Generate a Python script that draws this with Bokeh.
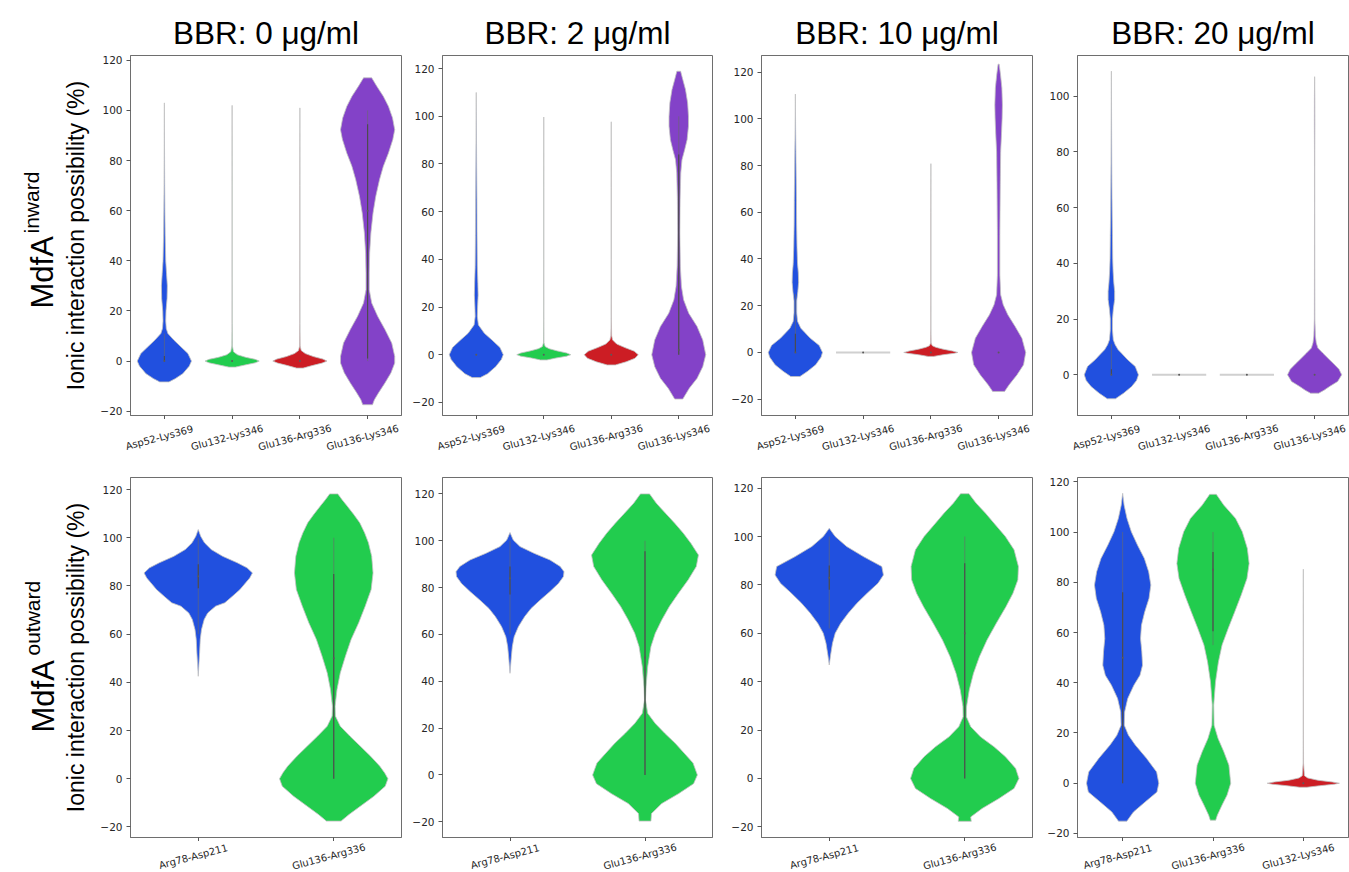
import numpy as np
from bokeh.plotting import figure
from bokeh.layouts import row, column
from bokeh.models import FixedTicker, Range1d
from bokeh.embed import file_html
from bokeh.resources import INLINE
from bokeh.core.properties import value

# ---------------- labels ----------------
concentrations = ["BBR: 0 μg/ml", "BBR: 2 μg/ml", "BBR: 10 μg/ml", "BBR: 20 μg/ml"]
inward_pairs = ["Asp52-Lys369", "Glu132-Lys346", "Glu136-Arg336", "Glu136-Lys346"]
outward_pairs = ["Arg78-Asp211", "Glu136-Arg336"]
outward_pairs_20 = ["Arg78-Asp211", "Glu136-Arg336", "Glu132-Lys346"]
y_ticks = [-20, 0, 20, 40, 60, 80, 100, 120]
y_tick_labels = ["−20", "0", "20", "40", "60", "80", "100", "120"]
ylabel = "Ionic interaction possibility (%)"

# ---------------- violin profiles (value, relative half-width) ----------------
# BBR 0, inward
in0_asp52_y = [-8.3, -7, -5, -2, 0, 3, 6, 8.5, 11, 13, 16, 20, 25, 30, 35, 40, 50, 60, 70, 80, 88, 95, 103]
in0_asp52_w = [0.17, 0.4, 0.68, 0.92, 1.0, 0.87, 0.58, 0.34, 0.13, 0.07, 0.05, 0.06, 0.1, 0.11, 0.08, 0.05, 0.03, 0.02, 0.012, 0.007, 0.004, 0.002, 0.0]
in0_glu132_y = [-2.4, -1.5, -0.7, 0, 0.7, 1.5, 2.5, 3.7, 6, 15, 40, 70, 102]
in0_glu132_w = [0.12, 0.5, 0.85, 1.0, 0.85, 0.5, 0.2, 0.05, 0.01, 0.003, 0.002, 0.002, 0.0]
in0_glu136r_y = [-2.8, -1.8, -0.8, 0, 0.8, 1.8, 3, 4.2, 6, 15, 40, 70, 101]
in0_glu136r_w = [0.12, 0.45, 0.82, 1.0, 0.85, 0.5, 0.2, 0.05, 0.01, 0.003, 0.002, 0.002, 0.0]
in0_glu136k_y = [-17.4, -15.4, -12.7, -8.7, -4.7, -0.8, 1.9, 7.2, 12.6, 17.9, 23.2, 28.5, 35.2, 43.1, 51.1, 59.1, 65.7, 72.4, 77.7, 83, 88.4, 92.3, 97, 101.6, 105.6, 109.6, 113]
in0_glu136k_w = [0.18, 0.25, 0.4, 0.64, 0.86, 1.0, 1.0, 0.89, 0.64, 0.37, 0.15, 0.06, 0.06, 0.075, 0.12, 0.2, 0.3, 0.44, 0.58, 0.77, 0.93, 1.0, 0.92, 0.77, 0.58, 0.34, 0.15]
# BBR 2, inward
in2_asp52_y = [-9.6, -8, -5, -2, 0, 3, 6, 9, 12.5, 16, 20, 25, 30, 37, 50, 65, 80, 93, 102, 110]
in2_asp52_w = [0.15, 0.42, 0.72, 0.93, 1.0, 0.88, 0.6, 0.3, 0.08, 0.04, 0.05, 0.07, 0.06, 0.04, 0.03, 0.025, 0.015, 0.008, 0.003, 0.0]
in2_glu132_y = [-2.2, -1.4, -0.6, 0, 0.7, 1.6, 2.5, 3.4, 5, 15, 40, 70, 99.7]
in2_glu132_w = [0.12, 0.45, 0.85, 1.0, 0.85, 0.5, 0.2, 0.05, 0.01, 0.003, 0.002, 0.002, 0.0]
in2_glu136r_y = [-4.3, -3, -1.5, 0, 1.5, 3, 4.5, 6.2, 8, 15, 40, 70, 97.7]
in2_glu136r_w = [0.15, 0.55, 0.88, 1.0, 0.85, 0.5, 0.2, 0.05, 0.015, 0.004, 0.002, 0.002, 0.0]
in2_glu136k_y = [-18.6, -14.1, -9.9, -5, 0, 6.2, 11.8, 17.4, 23, 28.6, 37, 51, 65, 76.2, 81.8, 86, 90.2, 95.8, 100, 105.6, 111.2, 115.4, 118.9]
in2_glu136k_w = [0.15, 0.39, 0.68, 0.89, 1.0, 0.89, 0.68, 0.37, 0.18, 0.1, 0.06, 0.04, 0.05, 0.075, 0.12, 0.22, 0.31, 0.36, 0.36, 0.33, 0.25, 0.15, 0.07]
# BBR 10, inward
in10_asp52_y = [-10.3, -8.1, -5.3, -2, 0, 3, 6.1, 8.5, 10.4, 13.3, 17, 22, 26, 30, 34, 38, 45, 55, 65, 75, 86, 95, 103, 110.6]
in10_asp52_w = [0.17, 0.45, 0.75, 0.95, 1.0, 0.88, 0.55, 0.35, 0.2, 0.08, 0.05, 0.05, 0.09, 0.12, 0.11, 0.08, 0.06, 0.045, 0.04, 0.03, 0.02, 0.01, 0.004, 0.0]
in10_glu132_y = [0, 0]
in10_glu132_w = [1.0, 1.0]
in10_glu136r_y = [-1.7, -1, -0.4, 0, 0.6, 1.4, 2.2, 2.9, 4, 10, 30, 60, 80.8]
in10_glu136r_w = [0.1, 0.45, 0.85, 1.0, 0.8, 0.45, 0.18, 0.05, 0.01, 0.003, 0.002, 0.002, 0.0]
in10_glu136k_y = [-16.7, -13.8, -9.6, -5.3, 0, 6.1, 11.1, 16.1, 20.4, 24.7, 33.2, 50.4, 71.8, 86, 93.2, 100.3, 106, 113.2, 118.9, 123.4]
in10_glu136k_w = [0.22, 0.39, 0.68, 0.92, 1.0, 0.86, 0.61, 0.34, 0.17, 0.075, 0.045, 0.045, 0.06, 0.075, 0.105, 0.13, 0.14, 0.12, 0.07, 0.02]
# BBR 20, inward
in20_asp52_y = [-8.6, -6.6, -4.2, -2, 0, 3, 5.4, 7.5, 9, 10.8, 12.6, 16.2, 20, 23.4, 27, 30, 33, 37, 41.3, 50, 57, 66, 75, 85, 95, 103, 109]
in20_asp52_w = [0.15, 0.45, 0.75, 0.93, 1.0, 0.88, 0.6, 0.4, 0.25, 0.14, 0.07, 0.04, 0.04, 0.07, 0.12, 0.12, 0.09, 0.065, 0.05, 0.04, 0.03, 0.022, 0.015, 0.01, 0.006, 0.003, 0.0]
in20_glu132_y = [0, 0]
in20_glu132_w = [1.0, 1.0]
in20_glu136r_y = [0, 0]
in20_glu136r_w = [1.0, 1.0]
in20_glu136k_y = [-6.6, -5.5, -4.2, -2.4, 0, 2, 4, 5.4, 7.8, 9.6, 11.5, 13.8, 20, 40, 60, 80, 90, 100, 107]
in20_glu136k_w = [0.15, 0.35, 0.55, 0.85, 1.0, 0.9, 0.7, 0.55, 0.3, 0.12, 0.06, 0.03, 0.01, 0.006, 0.005, 0.006, 0.01, 0.008, 0.0]
# BBR 0, outward
out0_arg78_y = [42.5, 46.7, 52.2, 57.8, 61.9, 66.1, 68.8, 71.6, 73, 75.7, 78.5, 81.3, 83.3, 85.4, 87.5, 89.6, 92.3, 95.1, 97.9, 100.6, 103.4]
out0_arg78_w = [0.0, 0.01, 0.025, 0.037, 0.06, 0.11, 0.175, 0.32, 0.49, 0.63, 0.77, 0.875, 0.95, 1.0, 0.9, 0.72, 0.45, 0.24, 0.115, 0.045, 0.0]
out0_glu136_y = [-17.6, -14.9, -11.4, -7.3, -3.1, 0, 2.4, 5.2, 9.3, 13.5, 17.6, 21.8, 26, 30.1, 37, 43.9, 50.8, 57.8, 64.7, 71.6, 78.5, 85.4, 92.3, 97.9, 102, 106.2, 109.6, 113.1, 115.9, 118.2]
out0_glu136_w = [0.135, 0.28, 0.49, 0.74, 0.95, 1.0, 0.94, 0.85, 0.68, 0.49, 0.3, 0.12, 0.03, 0.025, 0.06, 0.12, 0.215, 0.32, 0.46, 0.58, 0.69, 0.725, 0.7, 0.64, 0.57, 0.48, 0.37, 0.25, 0.15, 0.075]
# BBR 2, outward
out2_arg78_y = [43.4, 49.1, 54.8, 59, 63.3, 67.6, 71.1, 74.7, 78.3, 81.8, 84.7, 86.8, 89, 91.8, 94.6, 97.5, 100.3, 103.5]
out2_arg78_w = [0.0, 0.02, 0.043, 0.077, 0.155, 0.27, 0.39, 0.56, 0.74, 0.9, 0.99, 1.0, 0.93, 0.74, 0.45, 0.185, 0.06, 0.0]
out2_glu136_y = [-19.7, -16.5, -12.2, -8, -3.7, 0, 5.1, 9.2, 13.5, 17.7, 22, 26.3, 32, 37.7, 46.2, 54.8, 60.5, 66.2, 71.9, 77.6, 83.3, 89, 93.9, 98.9, 103.2, 107.5, 111.7, 116, 120]
out2_glu136_w = [0.11, 0.12, 0.31, 0.62, 0.9, 0.97, 0.89, 0.73, 0.56, 0.37, 0.19, 0.05, 0.01, 0.02, 0.05, 0.11, 0.19, 0.31, 0.45, 0.62, 0.8, 0.95, 0.99, 0.85, 0.71, 0.55, 0.38, 0.21, 0.085]
# BBR 10, outward
out10_arg78_y = [46.9, 51, 55.9, 60, 64.1, 68.3, 72.4, 76.6, 80.7, 84.1, 87.6, 91.7, 95.9, 100, 103.4]
out10_arg78_w = [0.0, 0.025, 0.06, 0.11, 0.21, 0.35, 0.51, 0.7, 0.9, 1.0, 0.97, 0.63, 0.32, 0.11, 0.0]
out10_glu136_y = [-17.7, -15.9, -12.4, -8.3, -4.1, 0, 4.1, 9, 13.1, 17.2, 21.4, 25.5, 29.7, 36.6, 43.4, 50.3, 57.2, 64.1, 71, 76.6, 82.1, 87.6, 94.5, 100, 105.5, 109.7, 113.8, 117.7]
out10_glu136_w = [0.12, 0.11, 0.32, 0.63, 0.91, 1.0, 0.94, 0.75, 0.54, 0.29, 0.11, 0.03, 0.034, 0.083, 0.16, 0.27, 0.41, 0.58, 0.76, 0.89, 0.98, 0.99, 0.91, 0.75, 0.54, 0.38, 0.21, 0.077]
# BBR 20, outward
out20_arg78_y = [-15.1, -11.4, -7.5, -3.5, 0, 4.5, 9.9, 15.2, 19.1, 23.1, 28.4, 33.7, 39, 43, 47, 52.3, 57.6, 62.9, 68.2, 73.6, 78.9, 84.2, 89.5, 94.8, 100.1, 105.4, 110.7, 115.4]
out20_arg78_w = [0.115, 0.3, 0.62, 0.95, 1.0, 0.94, 0.66, 0.35, 0.16, 0.045, 0.055, 0.14, 0.31, 0.48, 0.55, 0.53, 0.495, 0.52, 0.61, 0.73, 0.78, 0.72, 0.6, 0.41, 0.24, 0.12, 0.04, 0.0]
out20_glu136_y = [-14.7, -12.7, -8.7, -4.7, 0, 7.2, 12.5, 17.8, 23.1, 31.1, 40.4, 48.3, 55, 61.6, 68.2, 74.9, 81.5, 87.5, 93.5, 100.1, 105.4, 110.7, 115]
out20_glu136_w = [0.075, 0.12, 0.25, 0.39, 0.49, 0.44, 0.3, 0.14, 0.03, 0.02, 0.07, 0.15, 0.25, 0.42, 0.6, 0.78, 0.94, 1.0, 0.95, 0.81, 0.625, 0.3, 0.09]
out20_glu132_y = [-1.6, -1, -0.4, 0, 0.5, 1.2, 2.1, 3, 8, 20, 50, 85.2]
out20_glu132_w = [0.1, 0.45, 0.85, 1.0, 0.8, 0.4, 0.12, 0.03, 0.006, 0.003, 0.002, 0.0]

# ---------------- inner box statistics: (whisker low, q1, median, q3, whisker high) ----------------
in0_stats = [(0, 0, 0, 2, 11), (0, 0, 0, 0, 0), (0, 0, 0, 0, 0), (0, 1, 60, 94.5, 100)]
in2_stats = [(0, 0, 0, 0, 0), (0, 0, 0, 0, 0), (0, 0, 0, 0, 0), (0, 0, 2, 84, 100)]
in10_stats = [(0, 0, 0, 8, 25), (0, 0, 0, 0, 0), (0, 0, 0, 0, 0), (0, 0, 0, 0, 0)]
in20_stats = [(0, 0, 0, 2, 11), (0, 0, 0, 0, 0), (0, 0, 0, 0, 0), (0, 0, 0, 0, 0)]
out0_stats = [(60, 79, 84, 89, 100), (0, 0, 50, 85, 100)]
out2_stats = [(60, 77, 84, 89, 100), (0, 0, 50, 95.5, 100)]
out10_stats = [(62, 78, 83, 88, 100), (0, 0, 60, 89, 100)]
out20_stats = [(0, 0, 50, 76, 100), (55, 60.5, 85, 92, 100), (0, 0, 0, 0, 0)]

BLUE, GREEN, RED, PURPLE = "#2150DF", "#22CC4E", "#CC1D24", "#8342C8"
inward_colors = [BLUE, GREEN, RED, PURPLE]
outward_colors = [BLUE, GREEN]
outward_colors_20 = [BLUE, GREEN, RED]

# measured y-limits of each panel
in_ylims = [(-21.7, 121.9), (-25.5, 125.5), (-27.0, 127.1), (-14.6, 114.6)]
out_ylims = [(-24.4, 125.0), (-26.7, 127.0), (-24.4, 124.4), (-21.6, 121.7)]

FRAME_W = [271, 270, 271, 271]
BORDER_L = [65, 33, 40, 36]
BORDER_R = [8, 9, 9, 6]
TOP_T, TOP_STRIP, TOP_DROP = 55, 36, 18
BOT_T, BOT_STRIP, BOT_DROP = 22, 31, 15
PANEL_B = 4
FRAME_H = 360
H = TOP_T + FRAME_H + PANEL_B + TOP_STRIP + BOT_T + FRAME_H + PANEL_B + BOT_STRIP
HALF = 0.4
AXIS_GRAY = "#6e6e6e"


def draw_violin(p, c, ys, ws, color):
    right = [c + HALF * w for w in ws]
    left = [c - HALF * w for w in ws]
    xs = right + left[::-1]
    yy = list(ys) + list(ys)[::-1]
    if max(ys) == min(ys):
        p.patch(xs, yy, fill_color=color, line_color="#d0d0d0", line_width=2)
    else:
        p.patch(xs, yy, fill_color=color, fill_alpha=1.0, line_color="#c2c2c2", line_width=0.8)


def draw_inner(p, c, st):
    wlo, q1, med, q3, whi = st
    if whi > wlo:
        p.segment(x0=[c], y0=[wlo], x1=[c], y1=[whi], line_color="#6a6a6a", line_width=0.6)
    if q3 > q1:
        p.segment(x0=[c], y0=[q1], x1=[c], y1=[q3], line_color="#4a4a4a", line_width=1.1)
    p.scatter(x=[c], y=[med], size=2, color="#5a5a5a", line_width=0)


def panel(col, n, profiles, stats, colors, ylim, top, title=None, ylab=False):
    kw = dict(
        frame_width=FRAME_W[col], frame_height=FRAME_H,
        min_border_left=BORDER_L[col], min_border_right=BORDER_R[col],
        min_border_top=TOP_T if top else BOT_T, min_border_bottom=PANEL_B,
        x_range=Range1d(-0.5, n - 0.5), y_range=Range1d(*ylim),
        output_backend="svg", toolbar_location=None,
    )
    if title is not None:
        kw["title"] = title
    p = figure(**kw)
    p.xgrid.visible = False
    p.ygrid.visible = False
    p.outline_line_color = AXIS_GRAY
    p.outline_line_width = 1
    p.background_fill_color = "white"
    p.border_fill_color = "white"
    for ax in (p.xaxis[0], p.yaxis[0]):
        ax.axis_line_color = AXIS_GRAY
        ax.major_tick_line_color = "#555555"
        ax.major_tick_out = 4
        ax.major_tick_in = 0
        ax.minor_tick_line_color = None
        ax.major_label_text_font = "DejaVu Sans"
        ax.major_label_text_color = "#262626"
    # x ticks only; the rotated category names live in the strip below
    p.xaxis.ticker = FixedTicker(ticks=list(range(n)))
    p.xaxis.major_label_overrides = {i: "" for i in range(n)}
    p.xaxis.major_label_text_font_size = "0px"
    p.xaxis.major_label_standoff = 0
    ax = p.yaxis[0]
    ax.ticker = FixedTicker(ticks=y_ticks)
    ax.major_label_overrides = {t: lab for t, lab in zip(y_ticks, y_tick_labels)}
    ax.major_label_text_font_size = "10.5px"
    ax.major_label_standoff = 4
    if title is not None:
        p.title.text_font = "Liberation Sans"
        p.title.text_font_size = "31.5px"
        p.title.text_font_style = "normal"
        p.title.text_color = "black"
        p.title.align = "center"
        p.title.standoff = 9
    if ylab:
        ax.axis_label = ylabel
        ax.axis_label_text_font = "Liberation Sans"
        ax.axis_label_text_font_size = "23px"
        ax.axis_label_text_font_style = "normal"
        ax.axis_label_text_color = "black"
        ax.axis_label_standoff = 8
    for i in range(n):
        ys, ws = profiles[i]
        draw_violin(p, i, ys, ws, colors[i])
    for i in range(n):
        draw_inner(p, i, stats[i])
    return p


def label_strip(col, pairs, h, label_drop):
    """Strip under a panel: rotated category names, on the same x scale as the panel."""
    n = len(pairs)
    unit = FRAME_W[col] / n
    x0 = -0.5 - BORDER_L[col] / unit
    x1 = (n - 0.5) + BORDER_R[col] / unit
    s = figure(width=BORDER_L[col] + FRAME_W[col] + BORDER_R[col], height=h,
               x_range=Range1d(x0, x1), y_range=Range1d(0, h), min_border=0,
               x_axis_location=None, y_axis_location=None,
               output_backend="svg", toolbar_location=None)
    s.xgrid.visible = False
    s.ygrid.visible = False
    s.outline_line_color = None
    s.background_fill_color = "white"
    s.border_fill_color = "white"
    ticks = list(range(n))
    s.text(x=ticks, y=[h - label_drop] * n, text=pairs, angle=np.deg2rad(15),
           text_align="center", text_baseline="middle",
           text_font=value("DejaVu Sans"), text_font_size="10px", text_color="#262626")
    return s


top_profiles = [
    [(in0_asp52_y, in0_asp52_w), (in0_glu132_y, in0_glu132_w), (in0_glu136r_y, in0_glu136r_w), (in0_glu136k_y, in0_glu136k_w)],
    [(in2_asp52_y, in2_asp52_w), (in2_glu132_y, in2_glu132_w), (in2_glu136r_y, in2_glu136r_w), (in2_glu136k_y, in2_glu136k_w)],
    [(in10_asp52_y, in10_asp52_w), (in10_glu132_y, in10_glu132_w), (in10_glu136r_y, in10_glu136r_w), (in10_glu136k_y, in10_glu136k_w)],
    [(in20_asp52_y, in20_asp52_w), (in20_glu132_y, in20_glu132_w), (in20_glu136r_y, in20_glu136r_w), (in20_glu136k_y, in20_glu136k_w)],
]
top_stats = [in0_stats, in2_stats, in10_stats, in20_stats]
bot_profiles = [
    [(out0_arg78_y, out0_arg78_w), (out0_glu136_y, out0_glu136_w)],
    [(out2_arg78_y, out2_arg78_w), (out2_glu136_y, out2_glu136_w)],
    [(out10_arg78_y, out10_arg78_w), (out10_glu136_y, out10_glu136_w)],
    [(out20_arg78_y, out20_arg78_w), (out20_glu136_y, out20_glu136_w), (out20_glu132_y, out20_glu132_w)],
]
bot_stats = [out0_stats, out2_stats, out10_stats, out20_stats]
bot_pairs = [outward_pairs, outward_pairs, outward_pairs, outward_pairs_20]
bot_colors = [outward_colors, outward_colors, outward_colors, outward_colors_20]

top_figs = [panel(j, len(inward_pairs), top_profiles[j], top_stats[j], inward_colors, in_ylims[j], True,
                  title=concentrations[j], ylab=(j == 0)) for j in range(4)]
top_strips = [label_strip(j, inward_pairs, TOP_STRIP, TOP_DROP) for j in range(4)]
bot_figs = [panel(j, len(bot_pairs[j]), bot_profiles[j], bot_stats[j], bot_colors[j], out_ylims[j], False,
                  ylab=(j == 0)) for j in range(4)]
bot_strips = [label_strip(j, bot_pairs[j], BOT_STRIP, BOT_DROP) for j in range(4)]

# row labels (MdfA with superscript state)
lab = figure(width=60, height=H, x_range=Range1d(0, 60), y_range=Range1d(0, H), min_border=0,
             x_axis_location=None, y_axis_location=None, output_backend="svg", toolbar_location=None)
lab.xgrid.visible = False
lab.ygrid.visible = False
lab.outline_line_color = None
lab.text(x=[42, 43], y=[H - 308, H - 732], text=["MdfA", "MdfA"], angle=np.pi / 2,
         text_font=value("Liberation Sans"), text_font_size="31px", text_align="left",
         text_baseline="alphabetic", text_color="black")
lab.text(x=[31, 32], y=[H - 233, H - 655], text=["inward", "outward"], angle=np.pi / 2,
         text_font=value("Liberation Sans"), text_font_size="21px", text_align="left",
         text_baseline="alphabetic", text_color="black")

layout = row(lab, column(row(*top_figs), row(*top_strips), row(*bot_figs), row(*bot_strips)))
open("out.html", "w").write(file_html(layout, INLINE))
